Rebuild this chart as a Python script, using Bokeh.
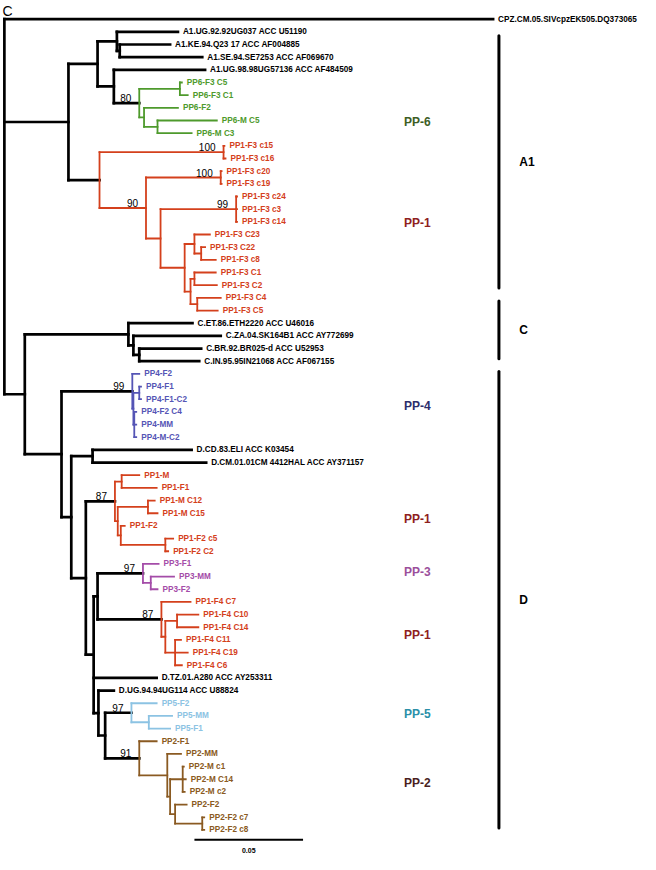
from collections import defaultdict
from bokeh.plotting import figure
from bokeh.models import ColumnDataSource, Range1d
from bokeh.core.properties import value
from bokeh.embed import file_html
from bokeh.resources import INLINE

# ---------------- data: internal nodes (depth in substitutions/site) ----------------
node_ids = ["root", "A1", "A1a", "G", "G2", "H", "PP6", "PP6a", "PP6b", "PP6c",
            "P1", "P1a", "P1M", "P1b", "P1N", "P1c", "P1O", "P1P", "P1Pa", "P1Q",
            "P1Qa", "P1Qb", "X", "C0", "C2", "C3", "D", "PP4", "PP4R", "PP4Q",
            "PP4S", "D73", "Dref", "Dlow", "P1D", "P1Da", "P1Dx", "P1Db", "P1Dy", "P1Dc",
            "B", "A", "PP3", "PP3a", "P1F4", "P1F4x", "P1F4a", "P1F4b", "Cn", "E",
            "PP5", "PP5a", "PP2", "PP2Z", "PP2V", "PP2W", "PP2U", "PP2T"]
node_parent = [None, "root", "A1", "A1a", "G", "A1a", "H", "PP6", "PP6", "PP6b",
               "A1", "P1", "P1", "P1M", "P1M", "P1N", "P1N", "P1O", "P1P", "P1O",
               "P1Q", "P1Q", "root", "X", "C0", "C2", "X", "D", "PP4", "PP4R",
               "PP4R", "D", "D73", "D73", "Dlow", "P1D", "P1D", "P1Dx", "P1Dx", "P1Dy",
               "Dlow", "B", "A", "PP3", "A", "P1F4", "P1F4x", "P1F4x", "B", "Cn",
               "E", "PP5", "E", "PP2", "PP2Z", "PP2V", "PP2V", "PP2U"]
node_depth = [0.0, 0.0295, 0.0429, 0.0518, 0.0531, 0.0504, 0.0621, 0.0808, 0.0643, 0.0705,
              0.0438, 0.1009, 0.0652, 0.0996, 0.0719, 0.1067, 0.0830, 0.0875, 0.0906, 0.0857,
              0.0875, 0.0888, 0.0094, 0.0571, 0.0594, 0.0621, 0.0263, 0.0589, 0.0594, 0.0621,
              0.0598, 0.0308, 0.0406, 0.0375, 0.0509, 0.0540, 0.0522, 0.0661, 0.0536, 0.0741,
              0.0411, 0.0429, 0.0638, 0.0674, 0.0723, 0.0741, 0.0795, 0.0786, 0.0433, 0.0464,
              0.0585, 0.0665, 0.0621, 0.0750, 0.0763, 0.0821, 0.0786, 0.0911]

support_nodes = ["PP6", "P1a", "P1M", "P1b", "P1c", "PP4", "P1D", "PP3", "P1F4", "PP5", "PP2"]
support_values = ["80", "100", "90", "100", "99", "99", "87", "97", "87", "97", "91"]

# ---------------- data: leaves (top to bottom) ----------------
leaf_names = [
    "CPZ.CM.05.SIVcpzEK505.DQ373065",
    "A1.UG.92.92UG037 ACC U51190", "A1.KE.94.Q23 17 ACC AF004885",
    "A1.SE.94.SE7253 ACC AF069670", "A1.UG.98.98UG57136 ACC AF484509",
    "PP6-F3 C5", "PP6-F3 C1", "PP6-F2", "PP6-M C5", "PP6-M C3",
    "PP1-F3 c15", "PP1-F3 c16", "PP1-F3 c20", "PP1-F3 c19", "PP1-F3 c24", "PP1-F3 c3",
    "PP1-F3 c14", "PP1-F3 C23", "PP1-F3 C22", "PP1-F3 c8", "PP1-F3 C1", "PP1-F3 C2",
    "PP1-F3 C4", "PP1-F3 C5",
    "C.ET.86.ETH2220 ACC U46016", "C.ZA.04.SK164B1 ACC AY772699",
    "C.BR.92.BR025-d ACC U52953", "C.IN.95.95IN21068 ACC AF067155",
    "PP4-F2", "PP4-F1", "PP4-F1-C2", "PP4-F2 C4", "PP4-MM", "PP4-M-C2",
    "D.CD.83.ELI ACC K03454", "D.CM.01.01CM 4412HAL ACC AY371157",
    "PP1-M", "PP1-F1", "PP1-M C12", "PP1-M C15", "PP1-F2", "PP1-F2 c5", "PP1-F2 C2",
    "PP3-F1", "PP3-MM", "PP3-F2",
    "PP1-F4 C7", "PP1-F4 C10", "PP1-F4 C14", "PP1-F4 C11", "PP1-F4 C19", "PP1-F4 C6",
    "D.TZ.01.A280 ACC AY253311", "D.UG.94.94UG114 ACC U88824",
    "PP5-F2", "PP5-MM", "PP5-F1",
    "PP2-F1", "PP2-MM", "PP2-M c1", "PP2-M C14", "PP2-M c2", "PP2-F2", "PP2-F2 c7", "PP2-F2 c8"]
leaf_parent = [
    "root", "G", "G2", "G2", "H",
    "PP6a", "PP6a", "PP6b", "PP6c", "PP6c",
    "P1a", "P1a", "P1b", "P1b", "P1c", "P1c", "P1c", "P1P", "P1Pa", "P1Pa", "P1Qa", "P1Qa",
    "P1Qb", "P1Qb",
    "C0", "C2", "C3", "C3",
    "PP4", "PP4Q", "PP4Q", "PP4S", "PP4S", "PP4S",
    "Dref", "Dref",
    "P1Da", "P1Da", "P1Db", "P1Db", "P1Dy", "P1Dc", "P1Dc",
    "PP3", "PP3a", "PP3a",
    "P1F4", "P1F4a", "P1F4a", "P1F4b", "P1F4b", "P1F4b",
    "B", "Cn",
    "PP5", "PP5a", "PP5a",
    "PP2", "PP2Z", "PP2W", "PP2W", "PP2W", "PP2U", "PP2T", "PP2T"]
leaf_depth = [
    0.2250, 0.0799, 0.0763, 0.0911, 0.0924,
    0.0817, 0.0844, 0.0799, 0.0978, 0.0862,
    0.1013, 0.1018, 0.1000, 0.1000, 0.1071, 0.1071, 0.1071, 0.0946, 0.0924, 0.0973,
    0.0973, 0.0978, 0.0996, 0.0982,
    0.0866, 0.0996, 0.0906, 0.0897,
    0.0621, 0.0629, 0.0629, 0.0607, 0.0607, 0.0607,
    0.0862, 0.0929,
    0.0621, 0.0701, 0.0692, 0.0705, 0.0554, 0.0777, 0.0754,
    0.0710, 0.0781, 0.0705,
    0.0857, 0.0893, 0.0893, 0.0813, 0.0844, 0.0817,
    0.0701, 0.0504,
    0.0701, 0.0772, 0.0763,
    0.0701, 0.0813, 0.0826, 0.0835, 0.0830, 0.0839, 0.0920, 0.0920]
leaf_group = (["ref"] * 5 + ["PP6"] * 5 + ["PP1"] * 14 + ["ref"] * 4 + ["PP4"] * 6
              + ["ref"] * 2 + ["PP1"] * 7 + ["PP3"] * 3 + ["PP1"] * 6 + ["ref"] * 2
              + ["PP5"] * 3 + ["PP2"] * 8)

group_keys = ["ref", "PP6", "PP1", "PP4", "PP3", "PP5", "PP2"]
group_line_colors = ["#000000", "#4e9a2c", "#d4401c", "#5555b5", "#a44ca8", "#8cc3e3", "#8a5a22"]

# population labels and subtype brackets
pop_labels = ["PP-6", "PP-1", "PP-4", "PP-1", "PP-3", "PP-1", "PP-5", "PP-2"]
pop_rows = [8.14, 16.12, 30.53, 39.44, 43.62, 48.58, 54.86, 60.28]
pop_colors = ["#3d5e24", "#8e2020", "#2b2d6b", "#8e2020", "#9b4f9b", "#8e2020", "#2b8fa8", "#4a1e1e"]
subtype_labels = ["A1", "C", "D"]
subtype_top = [1.32, 22.24, 27.82]
subtype_bottom = [21.23, 26.81, 63.85]
scale_length = 0.05

assert len(node_ids) == len(node_parent) == len(node_depth)
assert len(leaf_names) == len(leaf_parent) == len(leaf_depth) == len(leaf_group)

# ---------------- build tree geometry ----------------
gcol = dict(zip(group_keys, group_line_colors))
parent = dict(zip(node_ids, node_parent))
parent.update(zip(leaf_names, leaf_parent))
depth = dict(zip(node_ids, node_depth))
depth.update(zip(leaf_names, leaf_depth))
children = defaultdict(list)
for n in node_ids + leaf_names:
    if parent[n] is not None:
        children[parent[n]].append(n)

ypos = {n: float(i) for i, n in enumerate(leaf_names)}
color = {n: gcol[g] for n, g in zip(leaf_names, leaf_group)}


def resolve(n):
    if n in ypos:
        return ypos[n]
    ys = [resolve(c) for c in children[n]]
    ypos[n] = (min(ys) + max(ys)) / 2.0
    cs = set(color[c] for c in children[n])
    color[n] = cs.pop() if len(cs) == 1 else "#000000"
    return ypos[n]


resolve("root")

BLACK_W, COLOR_W = 2.7, 1.8
seg = dict(x0=[], y0=[], x1=[], y1=[], c=[], w=[])
for n in node_ids + leaf_names:
    p_ = parent[n]
    if p_ is None:
        continue
    c = color[n] if color[p_] == color[n] else "#000000"
    seg["x0"].append(depth[p_]); seg["x1"].append(depth[n])
    seg["y0"].append(ypos[n]); seg["y1"].append(ypos[n])
    seg["c"].append(c); seg["w"].append(BLACK_W if c == "#000000" else COLOR_W)
for n in node_ids:
    ys = [ypos[c] for c in children[n]]
    c = color[n]
    seg["x0"].append(depth[n]); seg["x1"].append(depth[n])
    seg["y0"].append(min(ys)); seg["y1"].append(max(ys))
    seg["c"].append(c); seg["w"].append(BLACK_W if c == "#000000" else COLOR_W)

# ---------------- figure ----------------
px_per_unit = 2240.0
row_px = 12.906
x_range = Range1d(-4 / px_per_unit, 656 / px_per_unit)
y_range = Range1d((870 - 19) / row_px, -19 / row_px)

p = figure(width=640, height=854, x_range=x_range, y_range=y_range,
           x_axis_type=None, y_axis_type=None, toolbar_location=None,
           output_backend="svg", min_border=0)
p.outline_line_color = None
p.background_fill_color = "white"

FONT = value("Liberation Sans")

p.segment(x0="x0", y0="y0", x1="x1", y1="y1", line_color="c", line_width="w",
          line_cap="square", source=ColumnDataSource(seg))

leaf_src = ColumnDataSource(dict(x=leaf_depth, y=list(range(len(leaf_names))),
                                 t=leaf_names, c=[gcol[g] for g in leaf_group]))
p.text(x="x", y="y", text="t", text_color="c", source=leaf_src, x_offset=5,
       text_baseline="middle", text_align="left", text_font=FONT,
       text_font_style="bold", text_font_size="8.2px")

sup_src = ColumnDataSource(dict(x=[depth[n] for n in support_nodes],
                                y=[ypos[n] for n in support_nodes], t=support_values))
p.text(x="x", y="y", text="t", source=sup_src, x_offset=-8, y_offset=-1,
       text_align="right", text_baseline="bottom", text_font=FONT,
       text_font_size="10px", text_color="black")

pop_x = 412 / px_per_unit
p.text(x=[pop_x] * len(pop_labels), y=pop_rows, text=pop_labels, text_color=pop_colors,
       text_baseline="middle", text_align="left", text_font=FONT,
       text_font_style="bold", text_font_size="12px")

bar_x = 510 / px_per_unit
p.segment(x0=[bar_x] * 3, x1=[bar_x] * 3, y0=subtype_top, y1=subtype_bottom,
          line_color="black", line_width=3, line_cap="round")
sub_x = 531 / px_per_unit
p.text(x=[sub_x] * 3, y=[(a + b) / 2 for a, b in zip(subtype_top, subtype_bottom)],
       text=subtype_labels, text_baseline="middle", text_align="left", text_font=FONT,
       text_font_style="bold", text_font_size="12px", text_color="black")

sb_x0 = 196 / px_per_unit
sb_row = (855 - 19) / row_px
p.segment(x0=[sb_x0], x1=[sb_x0 + scale_length], y0=[sb_row], y1=[sb_row],
          line_color="black", line_width=2)
p.text(x=[sb_x0 + scale_length / 2], y=[(866 - 19) / row_px], text=[f"{scale_length:.2f}"],
       text_align="center", text_baseline="middle", text_font=FONT,
       text_font_style="bold", text_font_size="7px", text_color="black")

p.text(x=[-2 / px_per_unit], y=[-16 / row_px], text=["C"], text_align="left",
       text_baseline="top", text_font=FONT, text_font_size="14px", text_color="black")

open("out.html", "w").write(file_html(p, INLINE))
